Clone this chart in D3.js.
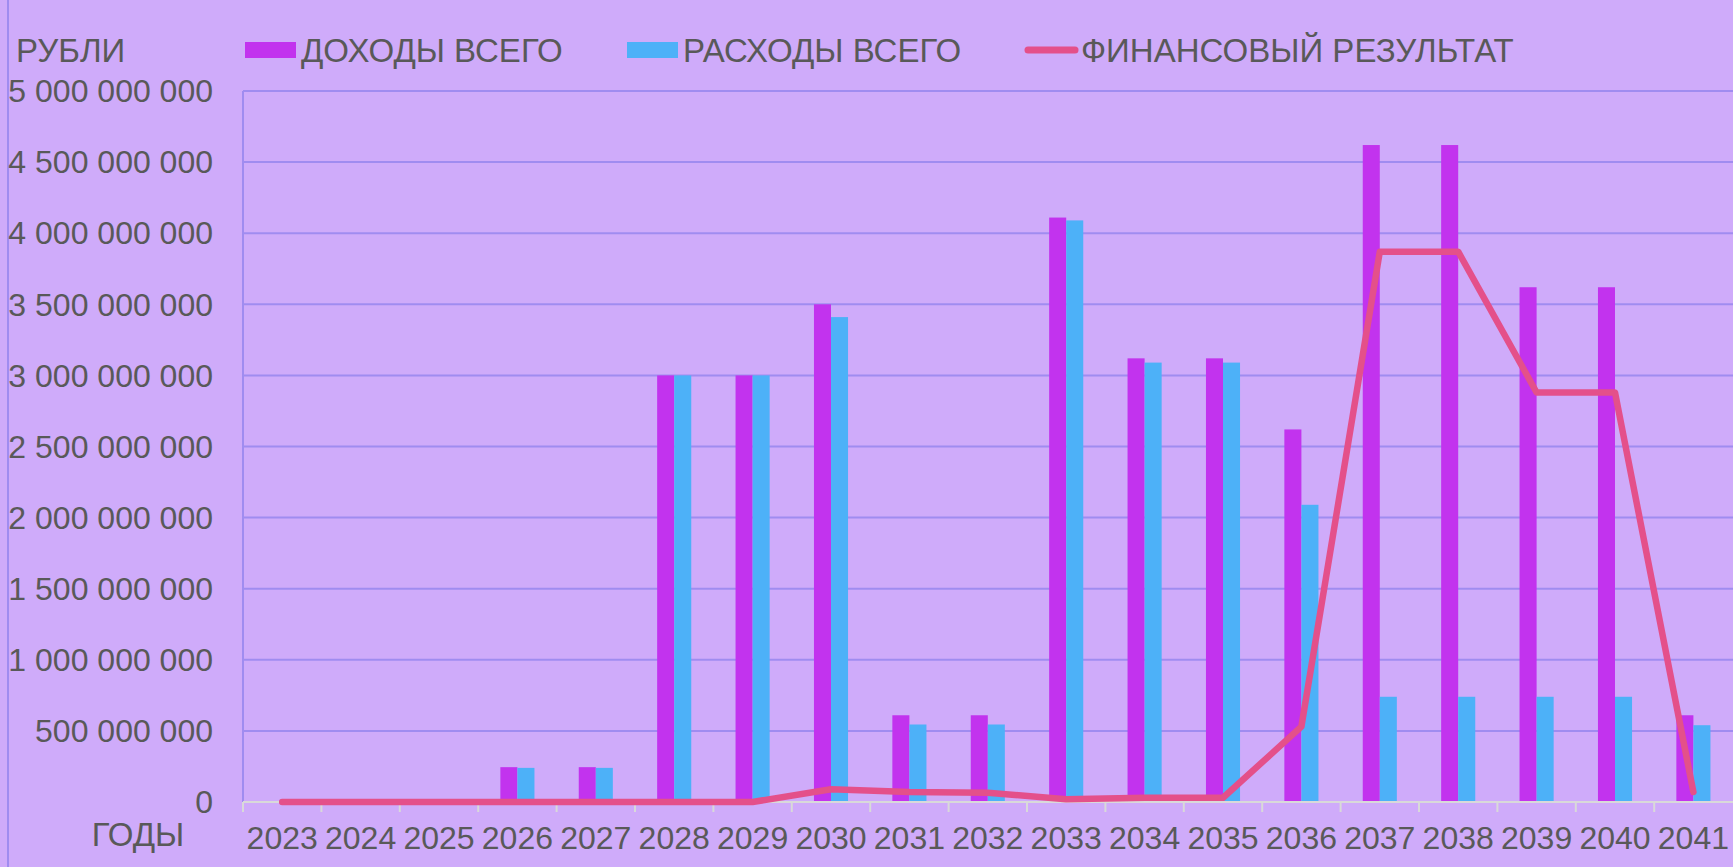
<!DOCTYPE html>
<html>
<head>
<meta charset="utf-8">
<script src="https://cdn.jsdelivr.net/npm/d3@7"></script>
<style>
  html, body { margin: 0; padding: 0; background: #cfabfa; }
  svg { display: block; font-family: "Liberation Sans", Arial, sans-serif; }
</style>
</head>
<body>
<svg id="chart" width="1733" height="867"></svg>
<script>
// data
var years = ['2023', '2024', '2025', '2026', '2027', '2028', '2029', '2030', '2031', '2032',
  '2033', '2034', '2035', '2036', '2037', '2038', '2039', '2040', '2041'];
var income = [0, 0, 0, 245e6, 245e6, 3.0e9, 3.0e9, 3.5e9, 0.61e9, 0.61e9,
  4.11e9, 3.12e9, 3.12e9, 2.62e9, 4.62e9, 4.62e9, 3.62e9, 3.62e9, 0.61e9];
var expenses = [0, 0, 0, 240e6, 240e6, 3.0e9, 3.0e9, 3.41e9, 0.545e9, 0.545e9,
  4.09e9, 3.09e9, 3.09e9, 2.09e9, 0.74e9, 0.74e9, 0.74e9, 0.74e9, 0.54e9];
var result = [0, 0, 0, 0, 0, 0, 0, 0.09e9, 0.07e9, 0.065e9,
  0.02e9, 0.03e9, 0.03e9, 0.53e9, 3.87e9, 3.87e9, 2.88e9, 2.88e9, 0.07e9];
var yTicks = [0, 5e8, 1e9, 1.5e9, 2e9, 2.5e9, 3e9, 3.5e9, 4e9, 4.5e9, 5e9];
var seriesNames = ['ДОХОДЫ ВСЕГО', 'РАСХОДЫ ВСЕГО', 'ФИНАНСОВЫЙ РЕЗУЛЬТАТ'];

var colors = { income: '#c233ee', expenses: '#4db1f8', result: '#e4508a' };
var textColor = '#595959';
var gridColor = '#a08cf0';
var fontSize = 32;
var legendFont = 33;

var svg = d3.select('#chart');
var plot = { left: 243, right: 1733, top: 91, bottom: 802 };

var x = d3.scaleBand()
  .domain(years)
  .range([plot.left, plot.left + 19 * 78.4])
  .paddingInner(0)
  .paddingOuter(0);

var x1 = d3.scaleBand()
  .domain(['income', 'expenses'])
  .range([0, x.bandwidth()])
  .paddingInner(0)
  .paddingOuter(1.3);

var y = d3.scaleLinear()
  .domain([0, 5e9])
  .range([plot.bottom, plot.top]);

function spaced(v) {
  return d3.format(',')(v).replace(/,/g, ' ');
}

// outer left border line
svg.append('line')
  .attr('x1', 8).attr('x2', 8)
  .attr('y1', 0).attr('y2', 867)
  .attr('stroke', gridColor).attr('stroke-width', 2);

// gridlines
svg.append('g')
  .selectAll('line')
  .data(yTicks.filter(function (d) { return d > 0; }))
  .join('line')
  .attr('x1', plot.left).attr('x2', plot.right)
  .attr('y1', function (d) { return y(d); })
  .attr('y2', function (d) { return y(d); })
  .attr('stroke', gridColor).attr('stroke-width', 2);

// y axis line
svg.append('line')
  .attr('x1', plot.left).attr('x2', plot.left)
  .attr('y1', plot.top).attr('y2', plot.bottom)
  .attr('stroke', gridColor).attr('stroke-width', 2);

// y tick labels
svg.append('g')
  .selectAll('text')
  .data(yTicks)
  .join('text')
  .attr('x', 213)
  .attr('y', function (d) { return y(d); })
  .attr('dy', '0.35em')
  .attr('text-anchor', 'end')
  .attr('font-size', fontSize)
  .attr('fill', textColor)
  .text(spaced);

// bars
var groups = svg.append('g')
  .selectAll('g')
  .data(years)
  .join('g')
  .attr('transform', function (d) { return 'translate(' + x(d) + ',0)'; });

groups.append('rect')
  .attr('x', x1('income'))
  .attr('width', x1.bandwidth())
  .attr('y', function (d, i) { return y(income[i]); })
  .attr('height', function (d, i) { return plot.bottom - y(income[i]); })
  .attr('fill', colors.income);

groups.append('rect')
  .attr('x', x1('expenses'))
  .attr('width', x1.bandwidth())
  .attr('y', function (d, i) { return y(expenses[i]); })
  .attr('height', function (d, i) { return plot.bottom - y(expenses[i]); })
  .attr('fill', colors.expenses);

// x axis
var xAxis = svg.append('g')
  .attr('transform', 'translate(0,' + plot.bottom + ')');
xAxis.append('line')
  .attr('x1', plot.left).attr('x2', plot.right)
  .attr('stroke', '#d9d9d9').attr('stroke-width', 2);
xAxis.selectAll('line.tick')
  .data(years)
  .join('line')
  .attr('class', 'tick')
  .attr('x1', function (d) { return x(d); })
  .attr('x2', function (d) { return x(d); })
  .attr('y1', 0).attr('y2', 10)
  .attr('stroke', '#d9d9d9').attr('stroke-width', 2);
xAxis.selectAll('text')
  .data(years)
  .join('text')
  .attr('x', function (d) { return x(d) + x.bandwidth() / 2; })
  .attr('y', 36)
  .attr('dy', '0.35em')
  .attr('text-anchor', 'middle')
  .attr('font-size', fontSize)
  .attr('fill', textColor)
  .text(function (d) { return d; });

// result line
var line = d3.line()
  .x(function (d, i) { return x(years[i]) + x.bandwidth() / 2; })
  .y(function (d) { return y(d); });

svg.append('path')
  .attr('d', line(result))
  .attr('fill', 'none')
  .attr('stroke', colors.result)
  .attr('stroke-width', 6.5)
  .attr('stroke-linejoin', 'round')
  .attr('stroke-linecap', 'round');

// axis titles
svg.append('text')
  .attr('x', 16).attr('y', 50).attr('dy', '0.35em')
  .attr('font-size', legendFont).attr('fill', textColor)
  .text('РУБЛИ');
svg.append('text')
  .attr('x', 138).attr('y', 834).attr('dy', '0.35em')
  .attr('text-anchor', 'middle')
  .attr('font-size', legendFont).attr('fill', textColor)
  .text('ГОДЫ');

// legend
var legend = svg.append('g');
legend.append('rect')
  .attr('x', 245).attr('y', 42).attr('width', 51).attr('height', 16)
  .attr('fill', colors.income);
legend.append('text')
  .attr('x', 301).attr('y', 50).attr('dy', '0.35em')
  .attr('font-size', legendFont).attr('fill', textColor)
  .text(seriesNames[0]);
legend.append('rect')
  .attr('x', 627).attr('y', 42).attr('width', 51).attr('height', 16)
  .attr('fill', colors.expenses);
legend.append('text')
  .attr('x', 683).attr('y', 50).attr('dy', '0.35em')
  .attr('font-size', legendFont).attr('fill', textColor)
  .text(seriesNames[1]);
legend.append('line')
  .attr('x1', 1028).attr('x2', 1075).attr('y1', 50).attr('y2', 50)
  .attr('stroke', colors.result).attr('stroke-width', 7)
  .attr('stroke-linecap', 'round');
legend.append('text')
  .attr('x', 1081).attr('y', 50).attr('dy', '0.35em')
  .attr('font-size', legendFont).attr('fill', textColor)
  .text(seriesNames[2]);
</script>
</body>
</html>
